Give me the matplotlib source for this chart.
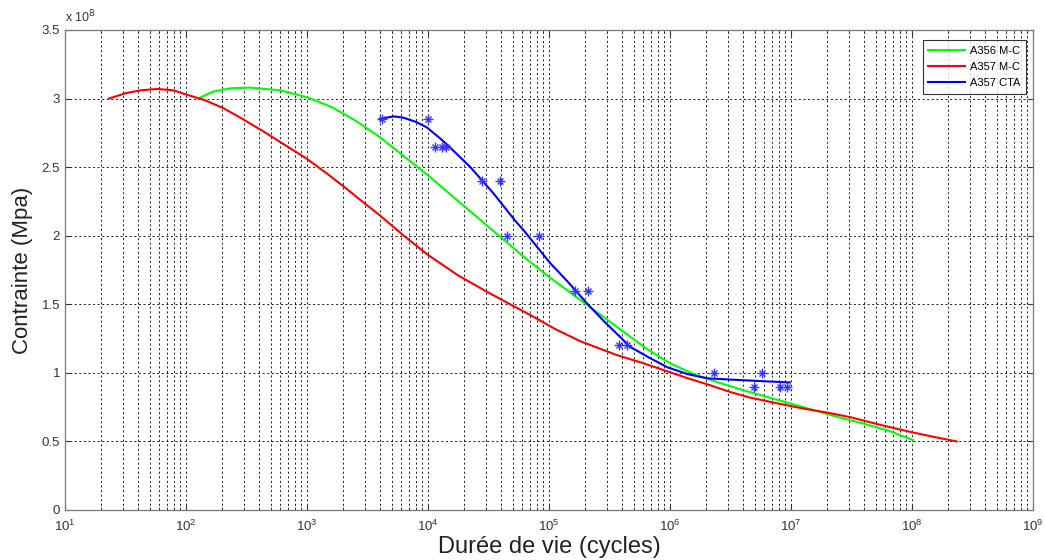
import matplotlib
matplotlib.use("Agg")
import matplotlib.pyplot as plt
from matplotlib.ticker import FuncFormatter, LogLocator, NullFormatter, MultipleLocator

# cycles (N) and stress (units of 1e8 Pa)
green_n = [126, 166, 234, 339, 603, 1000, 1585, 2512, 3981, 6310, 10000, 15850, 25120,
           39810, 63100, 100000, 158500, 251200, 398100, 631000, 1.0e6, 1.585e6,
           2.512e6, 3.981e6, 6.31e6, 1.0e7, 1.585e7, 2.512e7, 3.981e7, 6.31e7, 1.02e8]
green_s = [3.00, 3.05, 3.075, 3.08, 3.06, 3.01, 2.94, 2.84, 2.72, 2.58, 2.44, 2.29, 2.14,
           1.99, 1.84, 1.70, 1.57, 1.44, 1.31, 1.18, 1.07, 0.99, 0.93, 0.875, 0.825, 0.775,
           0.725, 0.675, 0.63, 0.58, 0.51]

red_n = [23, 32, 42, 58, 79, 100, 141, 204, 295, 437, 661, 1000, 1479, 2138, 2951, 3981,
         6310, 10000, 17780, 30900, 50100, 74100, 112200, 182000, 363000, 603000,
         955000, 1.41e6, 2.14e6, 3.16e6, 4.57e6, 8.51e6, 1.26e7, 2.0e7, 3.16e7, 5.5e7,
         1.02e8, 1.58e8, 2.34e8]
red_s = [3.00, 3.04, 3.06, 3.07, 3.06, 3.03, 2.99, 2.93, 2.85, 2.76, 2.66, 2.56, 2.45,
         2.34, 2.24, 2.15, 2.00, 1.86, 1.71, 1.59, 1.49, 1.41, 1.32, 1.23, 1.13, 1.07,
         1.01, 0.96, 0.91, 0.86, 0.82, 0.77, 0.74, 0.71, 0.675, 0.62, 0.565, 0.53, 0.50]

blue_n = [3981, 4467, 5248, 6310, 7943, 9772, 12590, 15140, 22390, 34670, 52480, 61660,
          102300, 144500, 204200, 281800, 389000, 467700, 676000, 955000, 1.41e6,
          2.04e6, 3.31e6, 5.62e6, 9.77e6]
blue_s = [2.85, 2.86, 2.87, 2.86, 2.83, 2.79, 2.71, 2.645, 2.50, 2.31, 2.11, 2.04, 1.80,
          1.66, 1.51, 1.38, 1.26, 1.19, 1.11, 1.04, 0.99, 0.96, 0.95, 0.94, 0.93]

pts_n = [4200, 10000, 11500, 13000, 14000, 28000, 39000, 45000, 83000, 163000, 210000,
         380000, 440000, 2300000, 5800000, 4900000, 8100000, 9300000]
pts_s = [2.85, 2.85, 2.65, 2.65, 2.65, 2.40, 2.40, 2.00, 2.00, 1.60, 1.60, 1.20, 1.20,
         1.00, 1.00, 0.90, 0.90, 0.90]

scale = 1e8

plt.rcParams["font.family"] = ["Liberation Sans", "DejaVu Sans"]

fig = plt.figure(figsize=(10.45, 5.6), dpi=100)
ax = fig.add_axes([65 / 1045, 50 / 560, 968 / 1045, 480 / 560])

ax.plot(green_n, [v * scale for v in green_s], color="#00ff00", lw=1.5, label="A356 M-C")
ax.plot(red_n, [v * scale for v in red_s], color="#ff0000", lw=1.5, label="A357 M-C")
ax.plot(blue_n, [v * scale for v in blue_s], color="#0000ff", lw=1.5, label="A357 CTA")
pts_y = [v * scale for v in pts_s]
ax.plot(pts_n, pts_y, ls="none", marker="+", ms=7, mew=1.0, color="#3333ff")
ax.plot(pts_n, pts_y, ls="none", marker="x", ms=4.5, mew=1.0, color="#3333ff")

ax.set_xscale("log")
ax.set_xlim(10, 1e9)
ax.set_ylim(0, 3.5e8)
ax.xaxis.set_major_locator(LogLocator(base=10, numticks=20))
ax.xaxis.set_minor_locator(LogLocator(base=10, subs=range(2, 10), numticks=100))
ax.xaxis.set_minor_formatter(NullFormatter())
ax.yaxis.set_major_locator(MultipleLocator(0.5e8))
ax.yaxis.set_major_formatter(FuncFormatter(lambda v, p: f"{v / scale:g}"))

grid_style = dict(color="black", ls=(0, (2.5, 3)), lw=0.6)
ax.grid(True, which="major", **grid_style)
ax.grid(True, which="minor", axis="x", **grid_style)

ax.tick_params(which="both", direction="in", top=True, right=True, labelsize=9.5,
               colors="#333333", length=4)
ax.tick_params(axis="x", which="major", pad=6)
ax.tick_params(which="minor", length=2.5)
for s in ax.spines.values():
    s.set_color("#777777")
    s.set_linewidth(0.9)

ax.text(0.0, 1.01, "x 10$^8$", transform=ax.transAxes, fontsize=9, color="#333333",
        ha="left", va="bottom")

ax.set_xlabel("Durée de vie (cycles)", fontsize=17, color="#222222", labelpad=2)
ax.set_ylabel("Contrainte (Mpa)", fontsize=16, color="#222222", labelpad=6)

leg = ax.legend(loc="upper right", fontsize=8, frameon=True, fancybox=False,
                edgecolor="black", handlelength=3.3, borderpad=0.5, labelspacing=0.55,
                handletextpad=0.4, bbox_to_anchor=(0.998, 0.99))
leg.get_frame().set_linewidth(0.8)

fig.savefig("out.png", dpi=100)
